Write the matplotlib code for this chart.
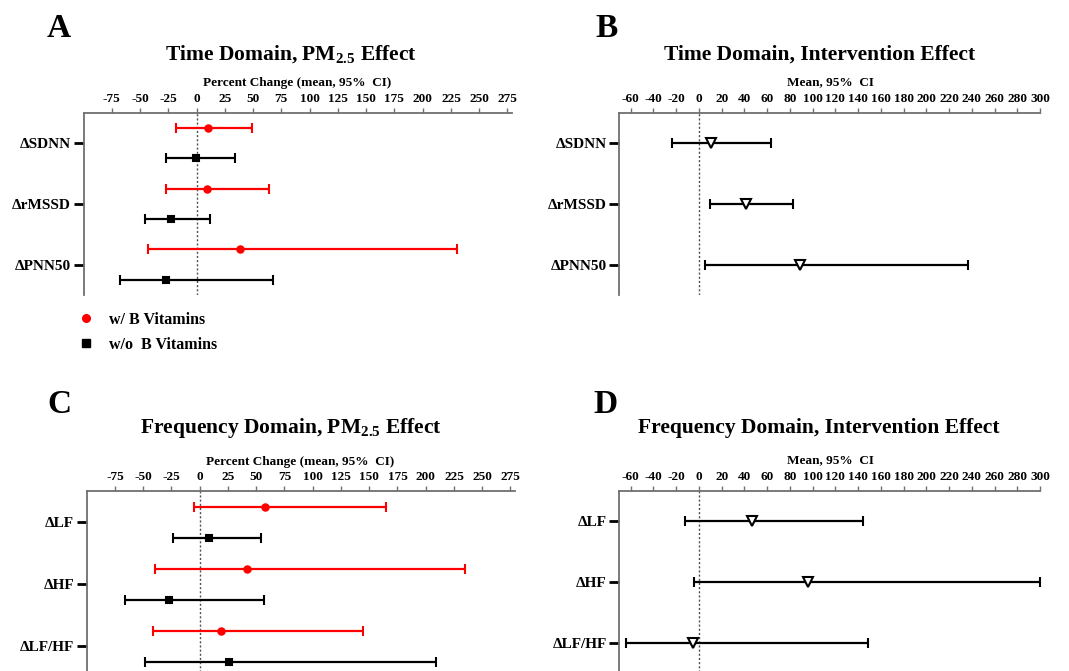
import numpy as np
import matplotlib.pyplot as plt
from matplotlib.lines import Line2D

plt.rcParams['font.family'] = ['Liberation Serif', 'DejaVu Serif']
plt.rcParams['font.weight'] = 'bold'
plt.rcParams['mathtext.fontset'] = 'custom'
plt.rcParams['mathtext.rm'] = 'Liberation Serif:bold'
plt.rcParams['mathtext.it'] = 'Liberation Serif:bold:italic'
plt.rcParams['mathtext.bf'] = 'Liberation Serif:bold'

# ---- data (mean, lower, upper) ----
time_labels = ['ΔSDNN', 'ΔrMSSD', 'ΔPNN50']
freq_labels = ['ΔLF', 'ΔHF', 'ΔLF/HF']

# A: time domain, PM2.5 effect (percent change)
a_vit_mean = [10, 9.5, 38]
a_vit_low = [-18, -27, -43]
a_vit_high = [49, 64, 230]
a_novit_mean = [-0.5, -22.5, -27]
a_novit_low = [-27, -45.5, -68]
a_novit_high = [34, 11.5, 68]

# B: time domain, intervention effect
b_mean = [11, 41.5, 89]
b_low = [-23.5, 9.5, 5.5]
b_high = [63, 82.5, 236.5]

# C: frequency domain, PM2.5 effect
c_vit_mean = [58, 41.5, 19]
c_vit_low = [-5, -40, -41.5]
c_vit_high = [165, 234.5, 144.5]
c_novit_mean = [8, -27.5, 26]
c_novit_low = [-24, -66, -48]
c_novit_high = [54, 56.5, 209.5]

# D: frequency domain, intervention effect
d_mean = [46.5, 96, -5.5]
d_low = [-12.5, -4, -64]
d_high = [144, 300, 148.5]

pm_ticks = np.arange(-75, 276, 25)
int_ticks = np.arange(-60, 301, 20)

W, H = 1069, 671
fig = plt.figure(figsize=(W / 100, H / 100), dpi=100)
fig.patch.set_facecolor('white')


def px_axes(left, top, right, bottom):
    return fig.add_axes([left / W, 1 - bottom / H, (right - left) / W, (bottom - top) / H])


def style(ax, labels, ticks, xlim):
    ax.set_xlim(*xlim)
    ax.set_ylim(2.5, -0.5)
    ax.set_yticks(range(len(labels)))
    ax.set_yticklabels(labels, fontsize=11, fontweight='bold')
    ax.set_xticks(ticks)
    ax.set_xticklabels([str(t) for t in ticks], fontsize=9.5, fontweight='bold')
    ax.xaxis.tick_top()
    ax.xaxis.set_label_position('top')
    for s in ['right', 'bottom']:
        ax.spines[s].set_visible(False)
    for s in ['left', 'top']:
        ax.spines[s].set_color('#707070')
        ax.spines[s].set_linewidth(1.3)
    ax.tick_params(axis='x', direction='out', length=3.5, width=1, color='#707070',
                   pad=2, labelcolor='black')
    ax.tick_params(axis='y', direction='out', length=7, width=2, color='black', pad=2)
    ax.axvline(0, color='#505050', lw=1, ls=(0, (1.5, 1.5)), zorder=1)


def eb(ax, mean, low, high, y, color, marker, ms, mfc):
    mean = np.array(mean)
    err = [mean - np.array(low), np.array(high) - mean]
    ax.errorbar(mean, y, xerr=err, fmt=marker, color=color, ecolor=color, mfc=mfc,
                mec=color, ms=ms, mew=1.5, elinewidth=1.6, capsize=3.6, capthick=1.6,
                clip_on=False, zorder=3)


ypos = np.arange(3)

# A
axA = px_axes(83.5, 112.7, 512, 295)
style(axA, time_labels, pm_ticks, (-100, 279))
eb(axA, a_vit_mean, a_vit_low, a_vit_high, ypos - 0.25, 'red', 'o', 4.6, 'red')
eb(axA, a_novit_mean, a_novit_low, a_novit_high, ypos + 0.25, 'black', 's', 4.6, 'black')

# B
axB = px_axes(619.3, 112.7, 1040, 295)
style(axB, time_labels, int_ticks, (-70, 300))
eb(axB, b_mean, b_low, b_high, ypos, 'black', 'v', 7, 'white')

# C
axC = px_axes(86.7, 491, 515, 677)
style(axC, freq_labels, pm_ticks, (-100, 279))
eb(axC, c_vit_mean, c_vit_low, c_vit_high, ypos - 0.25, 'red', 'o', 4.6, 'red')
eb(axC, c_novit_mean, c_novit_low, c_novit_high, ypos + 0.25, 'black', 's', 4.6, 'black')

# D
axD = px_axes(619.3, 490.7, 1040, 674)
style(axD, freq_labels, int_ticks, (-70, 300))
eb(axD, d_mean, d_low, d_high, ypos, 'black', 'v', 7, 'white')

# titles, axis labels, panel letters
def ftext(x, y, s, **kw):
    fig.text(x / W, 1 - y / H, s, **kw)

ftext(290.7, 59.3, 'Time Domain, PM$_{\\mathrm{2.5}}$ Effect', fontsize=15.5, ha='center', va='baseline')
ftext(819.7, 59.3, 'Time Domain, Intervention Effect', fontsize=15.5, ha='center', va='baseline')
ftext(290.8, 433.3, 'Frequency Domain, PM$_{\\mathrm{2.5}}$ Effect', fontsize=15.5, ha='center', va='baseline')
ftext(819, 433.3, 'Frequency Domain, Intervention Effect', fontsize=15.5, ha='center', va='baseline')

ftext(297, 85.7, 'Percent Change (mean, 95%  CI)', fontsize=9.5, ha='center', va='baseline')
ftext(830, 85, 'Mean, 95%  CI', fontsize=9.5, ha='center', va='baseline')
ftext(300, 465, 'Percent Change (mean, 95%  CI)', fontsize=9.5, ha='center', va='baseline')
ftext(830, 463.3, 'Mean, 95%  CI', fontsize=9.5, ha='center', va='baseline')

for letter, x, y in [('A', 47, 37), ('B', 595, 37), ('C', 47, 413), ('D', 593, 413)]:
    ftext(x, y, letter, fontsize=24, ha='left', va='baseline')

# legend
handles = [Line2D([], [], ls='none', marker='o', color='red', ms=5.5),
           Line2D([], [], ls='none', marker='s', color='black', ms=5.5)]
fig.legend(handles, ['w/ B Vitamins', 'w/o  B Vitamins'], loc='upper left',
           bbox_to_anchor=(79 / W, 1 - 312 / H), frameon=False, fontsize=11.5,
           handlelength=0.9, handletextpad=1.0, labelspacing=0.55,
           borderpad=0, borderaxespad=0)

fig.savefig('out.png', dpi=100, facecolor='white')
